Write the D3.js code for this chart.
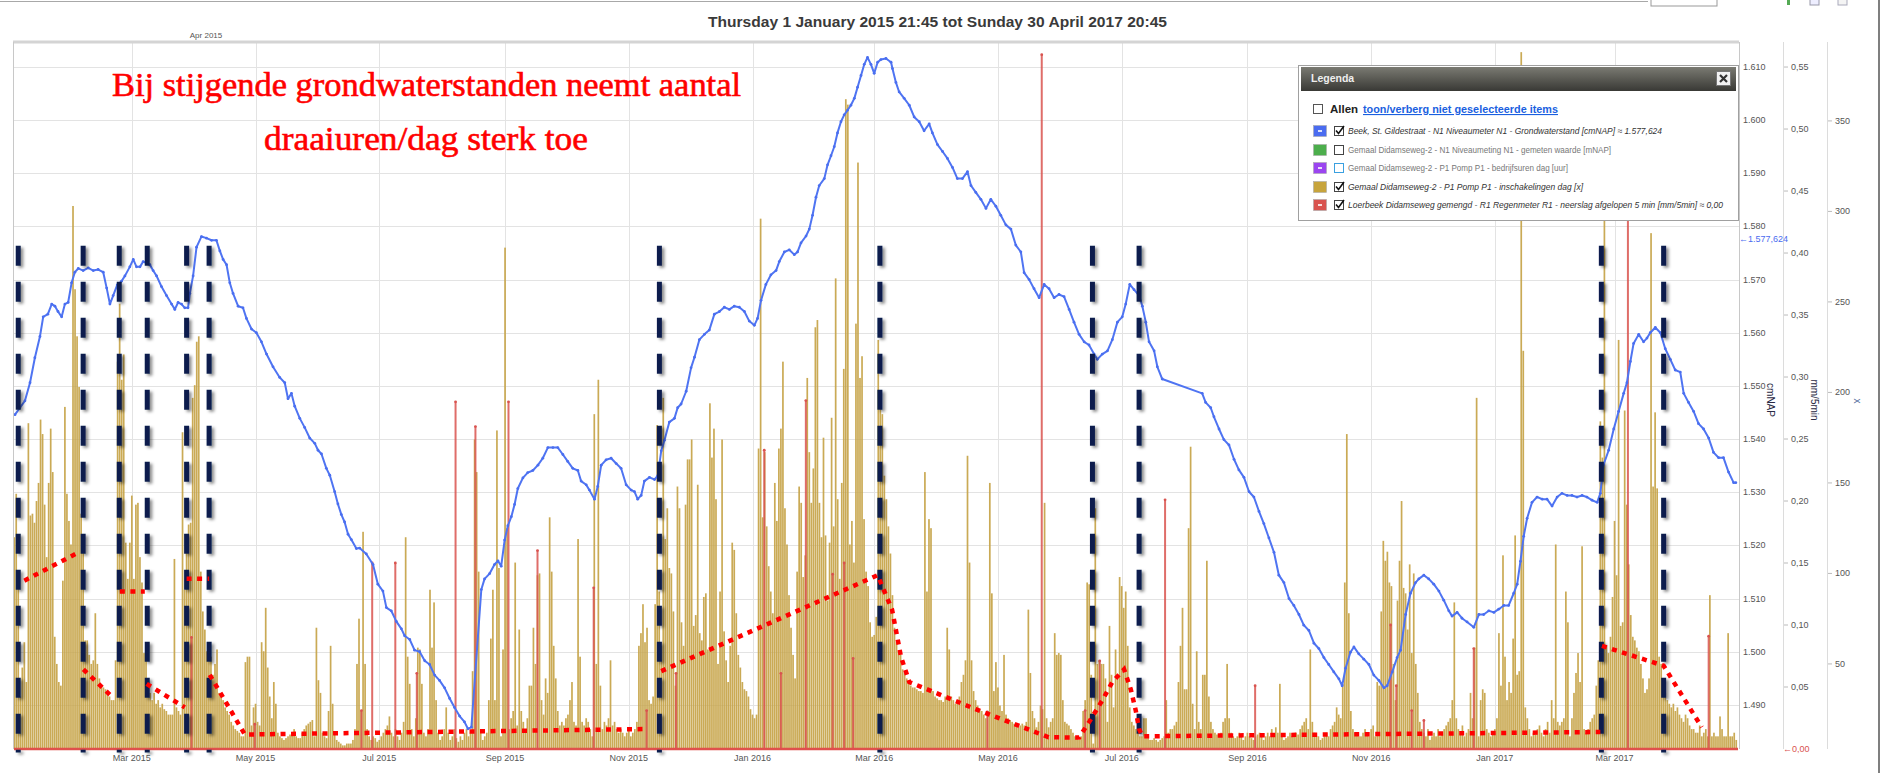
<!DOCTYPE html>
<html><head><meta charset="utf-8">
<script src="https://cdn.jsdelivr.net/npm/d3@7"></script>
<style>body{margin:0;background:#fff;}svg{display:block;font-family:"Liberation Sans",Arial,sans-serif;}</style>
</head><body>
<svg id="c" width="1883" height="778"></svg>
<script>
// ---------- DATA ----------
const BASE_DATE = "2015-01-01T00:00:00Z";          // day 0 of every *Days array
const START_DATE = "2015-01-01T21:45:00Z";
const END_DATE = "2017-04-30T20:45:00Z";
const titleText = "Thursday 1 January 2015 21:45 tot Sunday 30 April 2017 20:45";
const monthTickDates = ["2015-03-01","2015-05-01","2015-07-01","2015-09-01","2015-11-01","2016-01-01","2016-03-01","2016-05-01","2016-07-01","2016-09-01","2016-11-01","2017-01-01","2017-03-01"];
const monthTickLabels = ["Mar 2015","May 2015","Jul 2015","Sep 2015","Nov 2015","Jan 2016","Mar 2016","May 2016","Jul 2016","Sep 2016","Nov 2016","Jan 2017","Mar 2017"];
const levelTicks = [1490,1500,1510,1520,1530,1540,1550,1560,1570,1580,1590,1600,1610];
const rainTicks = [0.05,0.10,0.15,0.20,0.25,0.30,0.35,0.40,0.45,0.50,0.55];
const countTicks = [50,100,150,200,250,300,350];

// Gemaal Didamseweg-2 - P1 Pomp P1 - inschakelingen dag [x]  (one value per day, index = day)
const countValues = [
60,120,144,100,32,48,62,40,183,132, 133,128,140,150,185,177,138,109,150,180,
156,65,50,40,38,96,192,144,129,116, 303,257,231,203,133,113,63,63,55,50,
52,78,50,42,38,37,36,34,32,30, 30,52,217,249,207,221,117,97,117,143,
97,138,139,109,95,56,55,42,34,30, 34,28,30,26,28,25,24,22,22,22,
108,26,24,22,178,91,115,127,128,197, 204,228,231,101,79,69,57,55,54,44,
50,58,34,32,30,26,24,22,18,16, 14,13,12,10,10,51,54,54,16,26,
28,18,16,62,57,81,48,32,20,40, 28,12,10,9,8,9,10,11,12,14,
10,9,9,12,14,16,17,18,19,10, 70,41,34,12,10,9,24,60,28,12,
8,7,6,5,5,6,6,6,8,14, 50,75,24,123,50,14,10,8,10,9,
7,8,10,12,14,16,21,12,10,14, 10,8,12,18,120,54,39,14,10,20,
59,58,39,12,10,14,91,59,84,30, 12,8,10,14,26,12,8,10,14,9,
7,10,8,12,14,10,12,46,174,156, 101,14,8,10,12,30,64,91,30,179,
103,10,58,280,125,14,20,24,106,16, 69,24,18,14,20,38,38,70,50,99,
100,30,22,42,34,131,101,60,42,24, 16,18,16,20,22,30,40,18,16,119,
54,18,16,20,18,14,10,188,50,207, 38,14,18,16,20,52,16,18,14,12,
14,12,10,12,14,10,12,14,18,60, 67,83,62,70,30,28,32,83,182,90,
60,197,119,136,103,100,79,38,148,136, 73,60,138,163,163,174,71,77,149,67,
63,87,89,58,194,164,180,141,50,90, 174,68,52,40,60,117,113,78,55,48,
40,36,35,32,25,22,20,22,169,296, 131,167,126,104,90,78,150,129,169,180,
217,136,116,88,70,55,42,101,148,139, 98,110,208,167,139,158,236,240,139,120,
175,121,85,117,186,126,263,141,97,150, 213,362,359,116,129,106,238,327,208,220,
130,101,93,73,65,66,76,229,197,188, 154,141,126,111,88,70,62,57,55,47,
45,42,40,38,37,37,36,35,35,34, 156,90,130,125,35,32,31,30,30,29,
32,70,58,32,30,28,30,32,40,44, 52,165,106,52,35,30,27,25,24,22,
20,24,150,89,35,51,37,27,24,55, 22,20,19,18,17,16,15,16,17,16,
18,80,45,24,20,15,18,27,25,139, 20,15,18,20,67,55,56,55,30,18,
17,16,14,12,10,9,8,10,24,30, 95,94,44,6,136,50,52,50,50,42,
18,71,44,26,58,42,98,93,81,90, 60,26,18,16,14,12,10,10,20,20,
10,8,8,9,8,7,8,9,10,30, 12,14,14,16,18,40,60,81,36,36,
125,170,28,14,57,18,14,44,44,107, 32,18,14,12,11,10,12,18,20,50,
20,12,10,9,10,12,10,8,10,12, 10,9,8,10,11,12,10,8,10,12,
10,14,10,15,12,39,10,8,9,10, 12,10,10,12,11,14,16,18,20,14,
58,18,12,10,10,8,9,10,12,10, 14,16,18,26,22,20,39,95,177,78,
24,14,12,12,10,10,12,14,12,10, 14,16,10,40,38,79,118,107,112,95,
93,50,30,85,107,140,92,89,69,105, 56,100,50,34,18,14,12,10,14,8,
10,12,10,14,10,12,14,16,18,20, 30,84,20,14,12,16,10,12,14,34,
20,59,197,10,30,36,34,14,12,10, 12,14,20,67,38,110,54,30,40,34,
64,121,44,46,388,223,26,20,14,10, 12,11,14,16,12,10,14,18,12,30,
20,116,18,16,18,20,90,73,10,20, 34,45,56,40,115,14,12,14,18,20,
22,38,52,184,164,300,60,56,65,87, 129,99,229,71,73,190,138,105,77,65,
63,59,57,50,42,34,36,42,288,148, 189,147,54,50,42,34,30,28,26,28,
24,26,22,20,18,22,20,16,14,14, 12,12,16,10,12,14,10,88,10,12,
10,10,21,14,10,10,67,10,10,12, 8
];

// Beek, St. Gildestraat - Grondwaterstand [cmNAP]
const levelDays = [1.4,3.8,6.3,8.8,11.2,13.7,15.3,17.6,19.5,21.1,22.6,24.4,26,27.6,29.3,30.9,32.6,35,37.5,40,42.4,44.9,46.6,48.2,49.8,51.8,53.9,55.6,58,59.7,61.3,63,64.6,66.3,67.9,69.5,71.2,73.6,76.1,78.6,80.2,81.8,83.5,85.1,86.7,87.6,89.2,90.9,93.3,95.8,98.3,100.7,102.4,104,105.7,107.3,108.9,111.4,113.8,115.5,118,120.4,122.9,125.4,128.6,131.9,134.4,136,137.7,139.3,141.8,144.2,146.7,149.2,150.8,152.5,154.9,156.6,159,160.6,162.3,163.9,165.6,167.2,169.7,171.3,
174.6,177.9,180.3,182.8,184.5,186.9,189.4,191.9,193.5,196,198.4,200.9,203.4,205.8,208.3,210.7,213.2,215.7,218.1,220.6,223,224.7,226.4,231.3,232.9,235.4,237.8,239.5,241.1,242.8,244.4,246.1,247.7,249.3,251.8,254.2,256.7,259.2,261.6,264.1,266.6,269,271.5,273.9,276.4,278.9,280.5,283,284.6,287.1,288.7,290.4,292.8,295.3,297.8,300.2,302.7,305.2,306.8,308.4,310.1,311.7,314.2,316.7,318.3,320,321.6,324,326.5,328.1,329.8,332.3,334.7,336.4,338.8,341.3,343.7,
346.2,348.7,351.1,353.6,356,358.5,361,363.4,365.9,367.5,369.2,371.6,374.1,376.6,378.2,380.7,383.1,385.6,387.2,388.9,391.4,393,394.6,396.3,397.9,400.4,402,403.7,405.3,406.9,408.6,410.2,411.9,413.5,415.2,416.8,418.5,420.1,421.7,423.4,425,426.7,428.3,430.8,433.3,434,435.7,437.3,439.8,442.3,444.7,447.2,449.6,452.1,453.7,456.2,458.7,461.1,463.6,466,468.5,471,472.7,475.1,477.6,480.1,482.5,485,487.4,489.9,492.4,494.8,497.3,498.9,501.4,503.8,506.3,508.8,511.2,513.7,516.1,518.6,
521.1,523.5,526,528.5,530.9,533.4,535,537.5,540,542.4,544.9,547.3,549,551,553.1,555.6,557.2,558.9,560.5,563,564.6,567,586.7,588.4,590.9,592.5,595,597.4,599.9,602.4,604.8,607.3,609.8,612.2,614.7,617.1,619.6,622.1,624.5,627,629.5,631.9,634.4,636.8,639.3,641.8,644.2,646.7,649.1,651.6,654.1,655.7,657.4,659.8,661.5,663.9,666.4,668.9,671.3,673.8,676.3,677.9,680.4,682.8,684.5,687,689.4,691.9,693.5,
696,698.4,700.9,703.4,705.8,708.3,709.9,712.4,714.8,717.3,720.6,723.1,725.5,728,730.5,732.9,735.4,737.8,740.3,742,743.6,745.2,746.9,749.3,751.8,754.3,756.7,759.2,761.7,764.1,766.6,769,771.5,774,776.4,778.9,781.4,783,784.6,787.1,789.6,792,794.5,796.1,797.8,799.4,801.9,804.3,806,807.6,810.1,812.6,815,817.5,819.9,822.4,824.1,826.5,829,831.4,833.9,836.4,838.8,841.3,843.7,846.2,848.7,849.8];
const levelValues = [1544.6,1545.9,1547.2,1550.6,1555.3,1559.3,1563,1563.5,1565.4,1565,1564,1563,1565.4,1565.7,1569.4,1571.4,1572.1,1571.7,1572.2,1571.7,1571.9,1571.4,1568.4,1565.4,1567,1569,1569.7,1570.7,1572.4,1573.8,1572.4,1572.4,1573.4,1573.1,1572.8,1571.7,1570.7,1568.7,1567,1565.4,1564.4,1565.7,1565.4,1564.7,1564.7,1567.4,1570.7,1576.1,1578.1,1577.8,1577.4,1577.4,1575.4,1573.8,1572.8,1569.4,1567.4,1565,1564.7,1562.7,1560.7,1560,1558.3,1556,1553.6,1551.6,1550.6,1547.6,1548.6,1546.2,1543.9,1542.2,1540.2,1539.2,1537.9,1537.2,1534.5,1533.2,1530.1,1527.8,1525.8,1524.4,1522.1,1521.1,1519.4,1519.5,
1518.4,1516.4,1512.7,1511.4,1508.3,1507.7,1505.7,1504.3,1503,1502.3,1500.3,1500,1498.3,1497.6,1495.6,1494.6,1493.2,1491.2,1489.5,1487.9,1486.8,1485.5,1485.8,1511.7,1513.7,1514.7,1516.4,1517.1,1516.1,1521,1523.7,1525.4,1527.7,1530.7,1532.7,1533.7,1534.1,1535.1,1536.4,1538.4,1538.4,1538.4,1537.1,1535.8,1534.5,1534.1,1532.1,1531.4,1530.4,1528.7,1531.1,1535.1,1536.1,1536.4,1535.4,1534.5,1531.4,1530.4,1530.1,1528.7,1529.4,1532.1,1532.8,1532.4,1533.1,1537.8,1539.8,1543.2,1543.9,1545.9,1546.6,1549,1553.4,1555.4,1558.7,1559.7,1560.5,
1563.5,1564,1564.8,1564.4,1565,1564.8,1564,1562.2,1561.4,1562.7,1566.1,1569.1,1570.9,1571.7,1573.4,1575.2,1575.6,1574.7,1575.2,1576.9,1578.2,1579.5,1582.1,1585.5,1587.7,1589,1591.6,1593.3,1595,1597.6,1599.7,1601,1601.9,1602.8,1604.1,1606.2,1608.4,1610.5,1611.8,1610.5,1608.8,1610.9,1611.4,1611.6,1610.9,1609.7,1607.1,1605.3,1604.1,1602.8,1600.6,1599.7,1598,1599.3,1597.6,1595.4,1594.1,1592.8,1591.1,1589,1589,1590.3,1587.7,1586.4,1585.1,1583.4,1585.1,1583.8,1582.1,1580.3,1579.5,1576.5,1575.2,1571.3,1570,1568.3,1566.6,1569.1,1568.3,1566.6,1567.2,1566.8,
1564.4,1562,1559.7,1558.3,1557.7,1556,1555,1556,1556.6,1558.7,1562,1563,1565.4,1569.1,1568.1,1567,1565,1562,1558.3,1556.6,1553.6,1551.3,1548.6,1546.9,1545.9,1544.2,1541.9,1539.9,1538.9,1536.2,1534.2,1532.8,1530.1,1529.1,1526.4,1524.1,1521.4,1518.7,1514.4,1513,1510,1508.7,1507,1505,1504,1501.6,1500.6,1498.9,1497.6,1496.2,1494.9,1493.6,1496.9,1499.9,1500.9,1499.6,1498.6,1497.6,1495.6,1494.6,1493.2,1493.6,1496.2,1498.9,1500.3,1507,1511,1513,1513.7,
1514.4,1513.7,1512.7,1511.4,1509.7,1507.7,1506.7,1507.4,1506.3,1505.6,1504.6,1507,1507,1507.7,1507.4,1508,1508.7,1508.7,1511,1512.7,1517,1521.7,1525.1,1528.1,1529.1,1528.7,1528.7,1527.4,1529.1,1529.8,1529.4,1529.4,1529.1,1529.4,1529.1,1528.5,1528.1,1529.8,1535.2,1537.9,1541.9,1545.2,1548.6,1550.6,1554.6,1558,1559.7,1558.3,1559,1560,1561,1560,1557,1555,1553,1552.6,1548.6,1546.9,1545.2,1542.9,1541.9,1540.2,1537.5,1536.5,1536.5,1533.8,1531.8,1531.8];
const levelCurrent = 1577.624;

// Loerbeek Didamseweg - neerslag afgelopen 5 min [mm/5min]  (non-zero peaks)
const rainDays = [88.4,119.6,172.2,177.5,188.9,199.5,218.6,228.4,244.7,259,286.7,312.8,327.3,370.8,379,391.3,404.5,410.2,414.6,480.8,507.6,529,536.2,568.4,612.8,679.6,682.4,690,696,720.6,796.6,836.4];
const rainValues = [0.09,0.02,0.031,0.15,0.15,0.061,0.28,0.26,0.28,0.16,0.13,0.031,0.061,0.241,0.061,0.281,0.141,0.15,0.073,0.03,0.56,0.031,0.071,0.201,0.051,0.1,0.051,0.031,0.023,0.081,0.45,0.091];

// hand-drawn annotations (day, count [x])
const markerDays = [3.0,35.0,52.8,66.6,86.0,97.1,319.1,427.8,532.6,555.6,783.5,814.2];
const markerTopCount = 281;
const trendA = [[6,96],[33.4,112]];
const trendB = [[35.1,47],[48.2,33]];
const trendC = [[53.1,90],[65.4,90]];
const trendD = [[66.3,39],[85.1,26]];
const trendE = [[86,97],[97.1,97]];
const trendF = [[97.4,44],[114.7,11],[310.9,14]];
const trendG = [[320,46],[426.7,99],[433.8,80],[438.2,54],[442.3,40],[475,25],[511,9.5],[526,9.3],[531,18],[537.5,30],[542.4,40],[548.2,47],[551.5,36],[554,24],[555.6,14],[557.2,10],[783,12.4]];
const trendH = [[783.8,60],[814.2,49],[833,15]];
const annotationLines = ["Bij stijgende grondwaterstanden neemt aantal","draaiuren/dag sterk toe"];

const legendItems = ["Beek, St. Gildestraat - N1 Niveaumeter N1 - Grondwaterstand [cmNAP] \u2248 1.577,624",
 "Gemaal Didamseweg-2 - N1 Niveaumeting N1 - gemeten waarde [mNAP]",
 "Gemaal Didamseweg-2 - P1 Pomp P1 - bedrijfsuren dag [uur]",
 "Gemaal Didamseweg-2 - P1 Pomp P1 - inschakelingen dag [x]",
 "Loerbeek Didamseweg gemengd - R1 Regenmeter R1 - neerslag afgelopen 5 min [mm/5min] \u2248 0,00"];
const legendChecked = [true,false,false,true,true];
const legendColors = ["#4a6cf0","#4cae4c","#9b45f0","#c7a43c","#d9534f"];
const legendDash = [true,false,true,false,true];

// ---------- CHART ----------
const svg = d3.select("#c");
const P = {l:14, r:1739, t:42, b:749};
const base = new Date(BASE_DATE).getTime();
const dd = d => new Date(base + d*86400000);

const x = d3.scaleUtc().domain([new Date(START_DATE), new Date(END_DATE)]).range([P.l, 1738]);
const yL = d3.scaleLinear().domain([1481.7, 1614.7]).range([P.b, P.t]);
const yR = d3.scaleLinear().domain([0, 0.5702]).range([P.b, P.t]);
const yC = d3.scaleLinear().domain([3, 393.6]).range([P.b, P.t]);

const defs = svg.append("defs");
defs.append("clipPath").attr("id","pc").append("rect").attr("x",P.l).attr("y",P.t).attr("width",P.r-P.l).attr("height",P.b-P.t+2);
const f = defs.append("filter").attr("id","sh").attr("x","-100%").attr("y","-5%").attr("width","300%").attr("height","110%");
f.append("feDropShadow").attr("dx",2.5).attr("dy",2).attr("stdDeviation",1.6).attr("flood-color","#000").attr("flood-opacity",0.45);
const g1 = defs.append("linearGradient").attr("id","hdr").attr("x1",0).attr("y1",0).attr("x2",0).attr("y2",1);
g1.append("stop").attr("offset","0%").attr("stop-color","#7a7a72");
g1.append("stop").attr("offset","100%").attr("stop-color","#393935");

// top decorations
svg.append("line").attr("x1",0).attr("x2",1648).attr("y1",1.5).attr("y2",1.5).attr("stroke","#a8a8a8");
svg.append("rect").attr("x",1651).attr("y",-4).attr("width",66).attr("height",10).attr("fill","none").attr("stroke","#999");
svg.append("line").attr("x1",1879).attr("x2",1879).attr("y1",0).attr("y2",773).attr("stroke","#555").attr("stroke-width",1.5);
svg.append("rect").attr("x",1787).attr("y",0).attr("width",3).attr("height",5).attr("fill","#5a5");
svg.append("rect").attr("x",1810).attr("y",-2).attr("width",9).attr("height",7).attr("fill","#eef").attr("stroke","#99a");
svg.append("rect").attr("x",1838).attr("y",-2).attr("width",9).attr("height",7).attr("fill","#f4f4f4").attr("stroke","#aab");

// title
svg.append("text").attr("x",937.5).attr("y",27).attr("text-anchor","middle")
  .attr("font-size",15).attr("font-weight","bold").attr("fill","#3a3a3a")
  .attr("textLength",459).attr("lengthAdjust","spacingAndGlyphs").text(titleText);
svg.append("text").attr("x",206).attr("y",38).attr("text-anchor","middle").attr("font-size",8).attr("fill","#555").text("Apr 2015");

// grid
const grid = svg.append("g");
grid.selectAll(".hg").data(levelTicks).join("line").attr("x1",P.l).attr("x2",P.r)
  .attr("y1",d=>Math.round(yL(d))+0.5).attr("y2",d=>Math.round(yL(d))+0.5).attr("stroke","#e3e3e3");
grid.selectAll(".vg").data(monthTickDates).join("line")
  .attr("x1",d=>Math.round(x(new Date(d+"T00:00:00Z")))+0.5).attr("x2",d=>Math.round(x(new Date(d+"T00:00:00Z")))+0.5)
  .attr("y1",P.t).attr("y2",P.b).attr("stroke","#e3e3e3");
svg.append("line").attr("x1",P.l-1).attr("x2",P.r).attr("y1",P.t).attr("y2",P.t).attr("stroke","#d4d4d4").attr("stroke-width",3);
svg.append("line").attr("x1",P.l-0.5).attr("x2",P.l-0.5).attr("y1",P.t).attr("y2",P.b).attr("stroke","#c8c8c8");

// bars
const plot = svg.append("g").attr("clip-path","url(#pc)");
plot.append("g").selectAll("rect").data(countValues).join("rect")
  .attr("x",(v,i)=>x(dd(i))-0.85).attr("width",1.7)
  .attr("y",v=>yC(Math.max(v,3))).attr("height",v=>yC(3)-yC(Math.max(v,3)))
  .attr("fill","#c6a347").attr("fill-opacity",0.92);

// rain
plot.append("g").selectAll("line").data(rainDays).join("line")
  .attr("x1",d=>x(dd(d))).attr("x2",d=>x(dd(d))).attr("y1",yR(0)).attr("y2",(d,i)=>yR(rainValues[i]))
  .attr("stroke","#d9534f").attr("stroke-opacity",0.85).attr("stroke-width",2);
plot.append("g").selectAll("circle").data(rainDays).join("circle")
  .attr("cx",d=>x(dd(d))).attr("cy",(d,i)=>yR(rainValues[i])).attr("r",1.4).attr("fill","#d9534f");
plot.append("line").attr("x1",P.l).attr("x2",1738).attr("y1",yR(0)).attr("y2",yR(0)).attr("stroke","#e0504c").attr("stroke-width",2.5);

// level line
const lvl = levelDays.map((d,i)=>[d, levelValues[i]]);
plot.append("path").attr("d", d3.line().x(p=>x(dd(p[0]))).y(p=>yL(p[1]))(lvl))
  .attr("fill","none").attr("stroke","#4f74f2").attr("stroke-width",2).attr("stroke-linejoin","round");
plot.append("g").selectAll("circle").data(lvl).join("circle")
  .attr("cx",p=>x(dd(p[0]))).attr("cy",p=>yL(p[1])).attr("r",1.4).attr("fill","#4a6ef0");

// navy dashed markers
const mk = svg.append("g").attr("filter","url(#sh)");
mk.selectAll("line").data(markerDays).join("line")
  .attr("x1",d=>x(dd(d))).attr("x2",d=>x(dd(d))).attr("y1",yC(markerTopCount)).attr("y2",yC(1))
  .attr("stroke","#0b1f4d").attr("stroke-width",5).attr("stroke-dasharray","20 16");

// red dotted trends
const tl = d3.line().x(p=>x(dd(p[0]))).y(p=>yC(p[1]));
svg.append("g").selectAll("path").data([trendA,trendB,trendC,trendD,trendE,trendF,trendG,trendH]).join("path")
  .attr("d",tl).attr("fill","none").attr("stroke","#ff0000").attr("stroke-width",4.5).attr("stroke-dasharray","5 5.5");

// annotation text
svg.append("text").attr("x",112).attr("y",96).attr("font-family","'Liberation Serif','DejaVu Serif',serif")
  .attr("font-size",34).attr("fill","#ff0000").attr("stroke","#ff0000").attr("stroke-width",0.6)
  .attr("textLength",629).attr("lengthAdjust","spacingAndGlyphs").text(annotationLines[0]);
svg.append("text").attr("x",264).attr("y",150).attr("font-family","'Liberation Serif','DejaVu Serif',serif")
  .attr("font-size",34).attr("fill","#ff0000").attr("stroke","#ff0000").attr("stroke-width",0.6)
  .attr("textLength",324).attr("lengthAdjust","spacingAndGlyphs").text(annotationLines[1]);

// axes (right)
const ax = svg.append("g").attr("font-size",9).attr("fill","#555");
ax.append("line").attr("x1",1739.5).attr("x2",1739.5).attr("y1",P.t).attr("y2",P.b).attr("stroke","#c8c8c8");
ax.append("line").attr("x1",1783.5).attr("x2",1783.5).attr("y1",P.t).attr("y2",P.b).attr("stroke","#dcdcdc");
ax.append("line").attr("x1",1827.5).attr("x2",1827.5).attr("y1",P.t).attr("y2",P.b).attr("stroke","#dcdcdc");
ax.selectAll(".lt").data(levelTicks).join("text").attr("x",1743).attr("y",d=>yL(d)+3)
  .text(d=>{const s=String(d);return s.slice(0,s.length-3)+"."+s.slice(-3);});
ax.selectAll(".rtk").data(rainTicks).join("line").attr("x1",1784).attr("x2",1788).attr("y1",d=>yR(d)).attr("y2",d=>yR(d)).attr("stroke","#bbb");
ax.selectAll(".rt").data(rainTicks).join("text").attr("x",1791).attr("y",d=>yR(d)+3).text(d=>d.toFixed(2).replace(".",","));
ax.selectAll(".ctk").data(countTicks).join("line").attr("x1",1828).attr("x2",1832).attr("y1",d=>yC(d)).attr("y2",d=>yC(d)).attr("stroke","#bbb");
ax.selectAll(".ct").data(countTicks).join("text").attr("x",1835).attr("y",d=>yC(d)+3).text(d=>d);
svg.append("text").attr("x",1739).attr("y",yL(levelCurrent)+3).attr("font-size",9).attr("fill","#4a6cf0").text("\u2190"+"1.577,624");
svg.append("text").attr("x",1783).attr("y",yR(0)+3).attr("font-size",9).attr("fill","#d9534f").text("\u21900,00");
svg.append("text").attr("transform","translate(1767,400) rotate(90)").attr("text-anchor","middle").attr("font-size",10).attr("fill","#2a2a44").text("cmNAP");
svg.append("text").attr("transform","translate(1811,400) rotate(90)").attr("text-anchor","middle").attr("font-size",10).attr("fill","#2a2a44").text("mm/5min");
svg.append("text").attr("transform","translate(1854,401) rotate(90)").attr("text-anchor","middle").attr("font-size",10).attr("fill","#5570a0").text("x");

// x axis labels
svg.append("g").selectAll("text").data(monthTickDates).join("text")
  .attr("x",d=>x(new Date(d+"T00:00:00Z"))).attr("y",761).attr("text-anchor","middle")
  .attr("font-size",9).attr("fill","#555").text((d,i)=>monthTickLabels[i]);

// legend
const L = svg.append("g");
L.append("rect").attr("x",1298.5).attr("y",65.5).attr("width",440).attr("height",155).attr("fill","#fff").attr("stroke","#a0a0a0");
L.append("rect").attr("x",1301).attr("y",67).attr("width",435).attr("height",24).attr("fill","url(#hdr)");
L.append("text").attr("x",1311).attr("y",82).attr("font-size",10.5).attr("font-weight","bold").attr("fill","#eee").text("Legenda");
L.append("rect").attr("x",1716.5).attr("y",71.5).attr("width",14).attr("height",14).attr("fill","#f2f2f2").attr("stroke","#777");
L.append("path").attr("d","M1720,75 L1727,82 M1727,75 L1720,82").attr("stroke","#333").attr("stroke-width",2.2);
L.append("rect").attr("x",1313.5).attr("y",104.5).attr("width",9).attr("height",9).attr("fill","#fff").attr("stroke","#555");
L.append("text").attr("x",1330).attr("y",113).attr("font-size",11.5).attr("font-weight","bold").attr("fill","#222").text("Allen");
L.append("text").attr("x",1363).attr("y",113).attr("font-size",11).attr("font-weight","bold").attr("fill","#1a5fe0")
  .attr("text-decoration","underline").attr("textLength",195).attr("lengthAdjust","spacingAndGlyphs").text("toon/verberg niet geselecteerde items");
const rowY = [131,150,168,187,205];
const rowLen = [314,263,220,235,375];
legendItems.forEach((t,i)=>{
  const c = rowY[i];
  L.append("rect").attr("x",1313.5).attr("y",c-5.5).attr("width",13).attr("height",11).attr("fill",legendColors[i]).attr("stroke","#aaa").attr("stroke-width",0.6);
  if (legendDash[i]) L.append("rect").attr("x",1318).attr("y",c-0.8).attr("width",4).attr("height",1.6).attr("fill","#fff");
  L.append("rect").attr("x",1334.5).attr("y",c-4.5).attr("width",9).attr("height",9).attr("fill","#fff").attr("stroke", i===2 ? "#3aa0e0" : "#444");
  if (legendChecked[i]) L.append("path").attr("d",`M1336,${c-0.5} L1338.5,${c+2.5} L1344,${c-5}`).attr("fill","none").attr("stroke","#111").attr("stroke-width",1.6);
  L.append("text").attr("x",1348).attr("y",c+3).attr("font-size",9.5)
    .attr("font-style",legendChecked[i]?"italic":"normal").attr("fill",legendChecked[i]?"#333":"#777")
    .attr("textLength",rowLen[i]).attr("lengthAdjust","spacingAndGlyphs").text(t);
});
</script>
</body></html>
